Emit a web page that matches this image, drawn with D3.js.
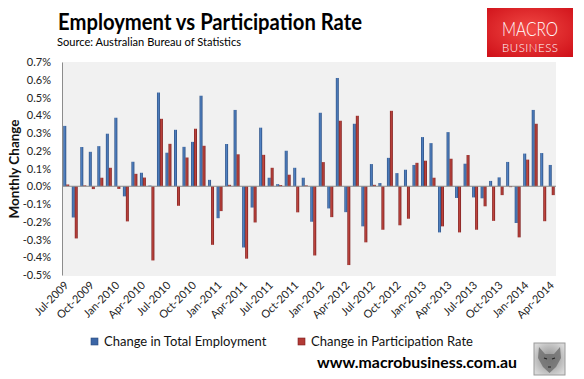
<!DOCTYPE html>
<html>
<head>
<meta charset="utf-8">
<script src="https://cdn.jsdelivr.net/npm/d3@7"></script>
<style>
  body { margin: 0; background: #fff; }
  text { font-family: Lato, "Open Sans", sans-serif; }
</style>
</head>
<body>
<svg id="chart" width="584" height="379"></svg>
<script>
// months Jul-2009 .. Apr-2014
var months = d3.timeMonths(new Date(2009, 6, 1), new Date(2014, 4, 1)).map(d3.timeFormat("%b-%Y"));
var tickLabels = months.filter(function(m, i) { return i % 3 === 0; });

// monthly change, %
var employment = [0.34, -0.176, 0.221, 0.194, 0.226, 0.296, 0.386, -0.057, 0.138, 0.076,
  0.004, 0.528, 0.189, 0.318, 0.222, 0.25, 0.51, 0.036, -0.18, 0.238,
  0.43, -0.345, -0.12, 0.33, 0.048, 0.012, 0.2, 0.104, 0.048, -0.2,
  0.414, -0.125, 0.61, -0.146, 0.352, -0.226, 0.125, 0.018, 0.16, 0.074,
  0.093, 0.12, 0.277, 0.243, -0.26, 0.305, -0.066, 0.127, -0.063, -0.068,
  0.03, 0.05, 0.137, -0.207, 0.184, 0.43, 0.187, 0.12];
var participation = [0.01, -0.294, 0.005, -0.016, 0.048, 0.104, -0.015, -0.198, 0.07, 0.049,
  -0.418, 0.38, 0.239, -0.11, 0.162, 0.324, 0.228, -0.33, -0.14, 0.008,
  0.18, -0.408, -0.204, 0.177, 0.104, 0.007, 0.065, -0.147, 0.005, -0.39,
  0.136, -0.174, 0.369, -0.444, 0.397, -0.316, 0.008, -0.245, 0.425, -0.22,
  -0.183, 0.132, 0.144, 0.048, -0.226, 0.155, -0.26, 0.176, -0.245, -0.113,
  -0.195, -0.05, -0.005, -0.288, 0.15, 0.352, -0.197, -0.05];
var seriesNames = ["Change in Total Employment", "Change in Participation Rate"];
var yTicks = [-0.5, -0.4, -0.3, -0.2, -0.1, 0, 0.1, 0.2, 0.3, 0.4, 0.5, 0.6, 0.7];

var svg = d3.select("#chart");
var defs = svg.append("defs");

function barGrad(id, dark, light) {
  var g = defs.append("linearGradient").attr("id", id).attr("x1", 0).attr("x2", 1).attr("y1", 0).attr("y2", 0);
  g.append("stop").attr("offset", "0%").attr("stop-color", dark);
  g.append("stop").attr("offset", "45%").attr("stop-color", light);
  g.append("stop").attr("offset", "100%").attr("stop-color", dark);
}
barGrad("gBlue", "#2a4d80", "#5283c4");
barGrad("gRed", "#7c1f1f", "#c0463f");

var logoGrad = defs.append("radialGradient").attr("id", "gLogo").attr("cx", "50%").attr("cy", "45%").attr("r", "70%");
logoGrad.append("stop").attr("offset", "0%").attr("stop-color", "#f24a45");
logoGrad.append("stop").attr("offset", "100%").attr("stop-color", "#d0121a");

var wolfGrad = defs.append("radialGradient").attr("id", "gWolf").attr("cx", "50%").attr("cy", "50%").attr("r", "60%");
wolfGrad.append("stop").attr("offset", "0%").attr("stop-color", "#8a8a8a");
wolfGrad.append("stop").attr("offset", "100%").attr("stop-color", "#d8d8d8");

var colors = ["url(#gBlue)", "url(#gRed)"];
var swatch = ["#3b66a6", "#b23a36"];

var plot = { left: 62, right: 556, top: 62, bottom: 276 };

var x0 = d3.scaleBand().domain(months).range([plot.left, plot.right]).paddingInner(0.3).paddingOuter(0.15);
var x1 = d3.scaleBand().domain([0, 1]).range([0, x0.bandwidth()]);
var y = d3.scaleLinear().domain([-0.5, 0.7]).range([plot.bottom - 1, plot.top]);

// titles
svg.append("text").attr("x", 58).attr("y", 30)
  .attr("font-size", 22).attr("font-weight", 700).attr("fill", "#000")
  .attr("textLength", 304).attr("lengthAdjust", "spacingAndGlyphs")
  .text("Employment vs Participation Rate");
svg.append("text").attr("x", 57).attr("y", 46)
  .attr("font-size", 12).attr("fill", "#000")
  .attr("textLength", 184).attr("lengthAdjust", "spacingAndGlyphs")
  .text("Source: Australian Bureau of Statistics");

// logo
svg.append("rect").attr("x", 487).attr("y", 8).attr("width", 86).attr("height", 49).attr("fill", "url(#gLogo)");
svg.append("text").attr("x", 530).attr("y", 35.5).attr("text-anchor", "middle")
  .attr("font-family", "Roboto").attr("font-weight", 300).attr("font-size", 20).attr("fill", "#fff")
  .attr("textLength", 56).attr("lengthAdjust", "spacingAndGlyphs").text("MACRO");
svg.append("text").attr("x", 530).attr("y", 51.5).attr("text-anchor", "middle")
  .attr("font-family", "Roboto").attr("font-weight", 300).attr("font-size", 11.5).attr("fill", "#fff")
  .attr("textLength", 56).attr("lengthAdjust", "spacing").text("BUSINESS");

// plot background
svg.append("rect").attr("x", plot.left).attr("y", plot.top)
  .attr("width", plot.right - plot.left).attr("height", plot.bottom - plot.top).attr("fill", "#f1f1f1");

// y axis
var yAxis = d3.axisLeft(y).tickValues(yTicks).tickSize(0).tickPadding(11)
  .tickFormat(function(d) { return d.toFixed(1) + "%"; });
var gy = svg.append("g").attr("transform", "translate(" + plot.left + ",0)").call(yAxis);
gy.select(".domain").attr("stroke", "#8c8c8c");
gy.selectAll("text").attr("font-size", 11).attr("fill", "#222").attr("font-family", "Lato, sans-serif");

svg.append("text")
  .attr("transform", "translate(19," + ((plot.top + plot.bottom) / 2) + ") rotate(-90)")
  .attr("text-anchor", "middle").attr("font-size", 13.5).attr("font-weight", 700).attr("fill", "#111")
  .text("Monthly Change");

// bars
var groups = svg.append("g").selectAll("g")
  .data(months)
  .join("g")
  .attr("transform", function(d) { return "translate(" + x0(d) + ",0)"; });

groups.selectAll("rect")
  .data(function(d, i) { return [employment[i], participation[i]]; })
  .join("rect")
  .attr("x", function(d, j) { return x1(j); })
  .attr("y", function(d) { return y(Math.max(0, d)); })
  .attr("width", x1.bandwidth())
  .attr("height", function(d) { return Math.abs(y(d) - y(0)); })
  .attr("fill", function(d, j) { return colors[j]; });

// zero line
svg.append("line").attr("x1", plot.left).attr("x2", plot.right)
  .attr("y1", y(0)).attr("y2", y(0)).attr("stroke", "#8c8c8c").attr("stroke-width", 1);

// x tick labels
svg.append("g").selectAll("text")
  .data(tickLabels)
  .join("text")
  .attr("transform", function(d) {
    return "translate(" + (x0(d) + x0.bandwidth() / 2 + 3) + ",286) rotate(-45)";
  })
  .attr("text-anchor", "end").attr("font-size", 11).attr("fill", "#222")
  .text(function(d) { return d; });

// legend
var legX = [91, 298];
var leg = svg.append("g").selectAll("g").data(seriesNames).join("g")
  .attr("transform", function(d, i) { return "translate(" + legX[i] + ",337)"; });
leg.append("rect").attr("width", 7).attr("height", 7).attr("y", 1)
  .attr("fill", function(d, i) { return swatch[i]; })
  .attr("stroke", function(d, i) { return i ? "#7c1f1f" : "#284a7c"; }).attr("stroke-width", 0.6);
leg.append("text").attr("x", 13).attr("y", 8.5).attr("font-size", 13).attr("fill", "#111")
  .text(function(d) { return d; });

// url
svg.append("text").attr("x", 317).attr("y", 368)
  .attr("font-size", 15).attr("font-weight", 700).attr("fill", "#000")
  .attr("textLength", 200).attr("lengthAdjust", "spacingAndGlyphs")
  .text("www.macrobusiness.com.au");

// wolf badge
var wolf = svg.append("g").attr("transform", "translate(534,343)");
wolf.append("rect").attr("width", 31).attr("height", 32).attr("fill", "url(#gWolf)").attr("stroke", "#9a9a9a");
wolf.append("path")
  .attr("d", "M5,4 L11,11 L20,11 L26,4 L27,15 L22,24 L15.5,30 L9,24 L4,15 Z")
  .attr("fill", "#6e6e6e").attr("opacity", 0.8);
wolf.append("path")
  .attr("d", "M10,15 L13,16 M18,16 L21,15 M14,24 L17,24")
  .attr("stroke", "#222").attr("stroke-width", 1.2);
</script>
</body>
</html>
